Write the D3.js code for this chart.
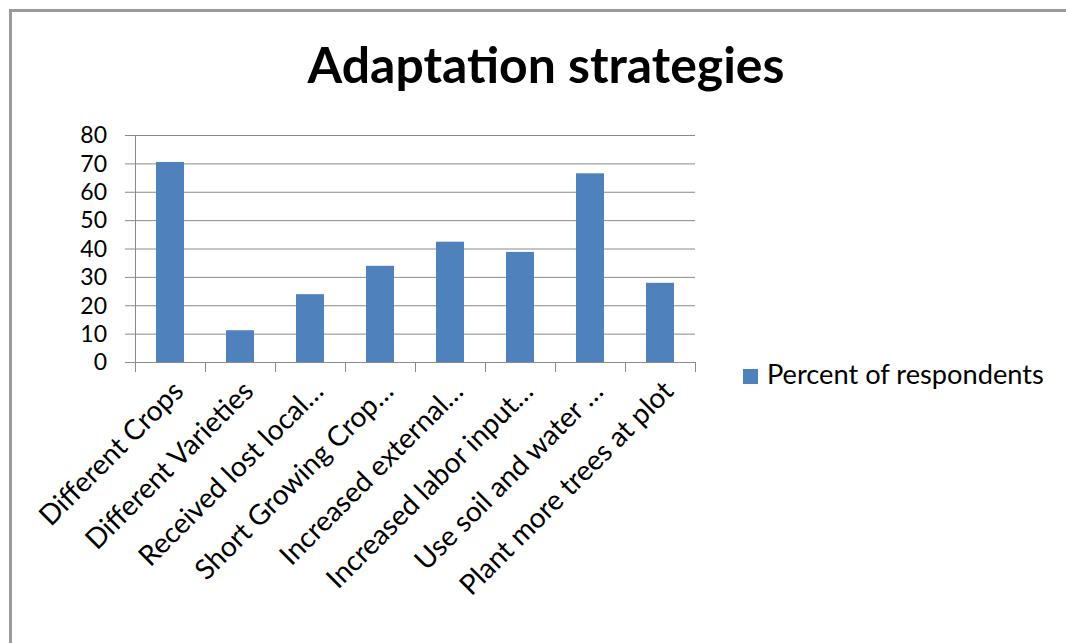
<!DOCTYPE html>
<html>
<head>
<meta charset="utf-8">
<script src="https://cdn.jsdelivr.net/npm/d3@7/dist/d3.min.js"></script>
<style>
  html, body { margin: 0; padding: 0; background: #fff; }
  svg { display: block; }
  text { font-family: Lato, "Open Sans", sans-serif; fill: #000; }
</style>
</head>
<body>
<script>
// Adaptation strategies reported by households (percent of respondents)
const categories = [
  "Different Crops",
  "Different Varieties",
  "Received lost local…",
  "Short Growing Crop…",
  "Increased external…",
  "Increased labor input…",
  "Use soil and water …",
  "Plant more trees at plot"
];
const percentOfRespondents = [70.5, 11.2, 23.9, 33.9, 42.4, 38.8, 66.5, 27.9];
const yTicks = [0, 10, 20, 30, 40, 50, 60, 70, 80];
const seriesName = "Percent of respondents";
const chartTitle = "Adaptation strategies";

const W = 1066, H = 643;
const plot = { left: 135, right: 695, top: 135, bottom: 362 };
const barColor = "#4F81BD";
const gridColor = "#8a8a8a";

const svg = d3.select("body").append("svg")
  .attr("width", W).attr("height", H);

svg.append("rect").attr("width", W).attr("height", H).attr("fill", "#fff");

// outer frame (top and left edges)
svg.append("path")
  .attr("d", `M10.5,${H} V10.5 H${W}`)
  .attr("fill", "none")
  .attr("stroke", "#9a9a9a")
  .attr("stroke-width", 3);

// pick a font size so a string spans a given width
function fitSize(str, targetWidth, weight) {
  const t = svg.append("text").attr("font-size", 100)
    .attr("font-weight", weight || "normal").text(str);
  const w = t.node().getComputedTextLength();
  t.remove();
  return 100 * targetWidth / w;
}

const labelSize = fitSize(seriesName, 277);
const catSize = labelSize * 1.03;
const tickSize = Math.min(23, labelSize);
const titleSize = fitSize(chartTitle, 477, "bold");

const x = d3.scaleBand()
  .domain(categories)
  .range([plot.left, plot.right])
  .paddingInner(0.6)
  .paddingOuter(0.3);

const y = d3.scaleLinear()
  .domain([0, 80])
  .range([plot.bottom, plot.top]);

// horizontal gridlines with left tick marks
const yAxis = d3.axisLeft(y)
  .tickValues(yTicks)
  .tickSize(-(plot.right - plot.left))
  .tickPadding(0)
  .tickFormat("");
const gy = svg.append("g")
  .attr("transform", `translate(${plot.left},0)`)
  .call(yAxis);
gy.select(".domain").remove();
gy.selectAll(".tick line")
  .attr("x1", -10)
  .attr("stroke", gridColor)
  .attr("stroke-width", 1);

// y tick labels
svg.append("g").selectAll("text")
  .data(yTicks)
  .join("text")
  .attr("x", 107)
  .attr("y", d => y(d))
  .attr("dy", "0.36em")
  .attr("text-anchor", "end")
  .attr("font-size", tickSize)
  .text(d => d);

// vertical axis line
svg.append("line")
  .attr("x1", plot.left + 0.5).attr("x2", plot.left + 0.5)
  .attr("y1", plot.top).attr("y2", plot.bottom)
  .attr("stroke", gridColor);

// bars
svg.append("g").selectAll("rect")
  .data(categories)
  .join("rect")
  .attr("x", d => x(d))
  .attr("width", x.bandwidth())
  .attr("y", (d, i) => y(percentOfRespondents[i]))
  .attr("height", (d, i) => y(0) - y(percentOfRespondents[i]))
  .attr("fill", barColor);

// category axis: line and boundary ticks
svg.append("line")
  .attr("x1", plot.left).attr("x2", plot.right)
  .attr("y1", plot.bottom + 0.5).attr("y2", plot.bottom + 0.5)
  .attr("stroke", gridColor);
const step = x.step();
const boundaries = d3.range(categories.length + 1).map(i => plot.left + i * step);
svg.append("g").selectAll("line")
  .data(boundaries)
  .join("line")
  .attr("x1", d => Math.round(d) + 0.5).attr("x2", d => Math.round(d) + 0.5)
  .attr("y1", plot.bottom).attr("y2", plot.bottom + 10)
  .attr("stroke", gridColor);

// rotated category labels
svg.append("g").selectAll("text")
  .data(categories)
  .join("text")
  .attr("transform", d => `translate(${x(d) + x.bandwidth() / 2 + 15},${plot.bottom + 31}) rotate(-45)`)
  .attr("text-anchor", "end")
  .attr("font-size", catSize)
  .text(d => d);

// title
svg.append("text")
  .attr("x", 546)
  .attr("y", 83)
  .attr("text-anchor", "middle")
  .attr("font-size", titleSize)
  .attr("font-weight", "bold")
  .text(chartTitle);

// legend
const lg = svg.append("g");
lg.append("rect")
  .attr("x", 743).attr("y", 369)
  .attr("width", 15).attr("height", 15)
  .attr("fill", barColor);
lg.append("text")
  .attr("x", 767).attr("y", 384)
  .attr("font-size", labelSize)
  .text(seriesName);
</script>
</body>
</html>
